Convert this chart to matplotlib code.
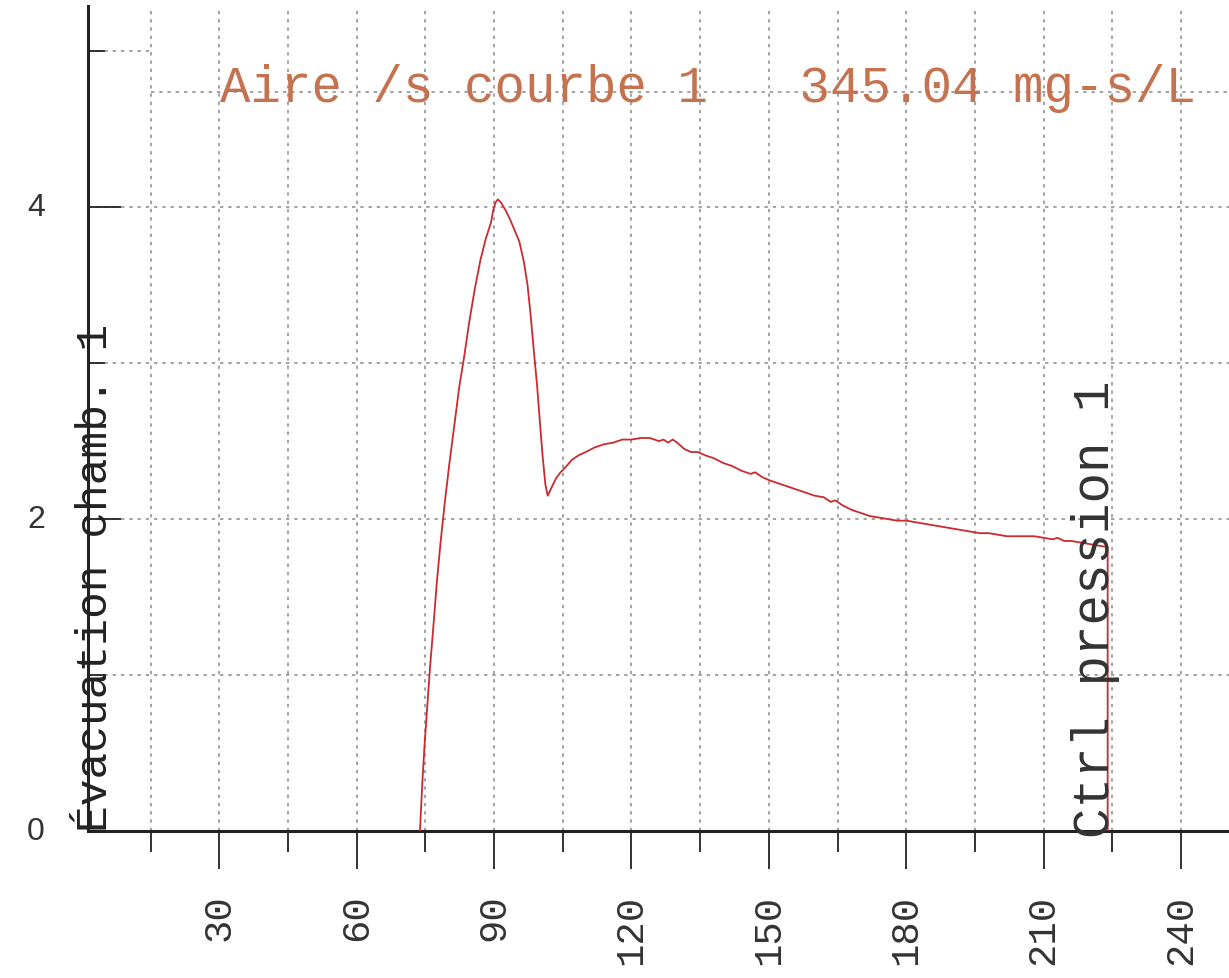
import matplotlib
matplotlib.use("Agg")
import matplotlib.pyplot as plt
from matplotlib.ticker import FixedLocator

# ---- data ----
time_s = [73.8, 74.3, 74.8, 75.4, 76.0, 76.7, 77.5, 78.3, 79.2, 80.2, 81.3, 82.4,
          83.5, 84.6, 85.8, 87.0, 88.2, 89.3, 89.8, 90.3, 90.8, 91.5, 92.5, 93.5,
          94.5, 95.5, 96.5, 97.3, 98.0, 98.7, 99.4, 100.0, 100.6, 101.2, 101.7,
          102.5, 103.5, 104.5, 105.5, 107.0, 108.5, 110.0, 112.0, 114.0, 116.0,
          118.0, 120.0, 122.0, 124.0, 126.0, 127.0, 128.0, 129.0, 130.0, 131.5,
          133.0, 134.5, 136.0, 138.0, 140.0, 142.0, 144.0, 146.0, 147.0, 148.5,
          150.0, 152.0, 154.0, 156.0, 158.0, 160.0, 162.0, 163.5, 164.5, 166.0,
          168.0, 170.0, 172.0, 174.0, 176.0, 178.0, 180.0, 182.0, 184.0, 186.0,
          188.0, 190.0, 192.0, 194.0, 196.0, 198.0, 200.0, 202.0, 204.0, 206.0,
          208.0, 210.0, 212.0, 213.0, 214.5, 216.0, 218.0, 220.0, 222.0, 224.0,
          224.0]
conc = [0.0, 0.3, 0.55, 0.8, 1.05, 1.3, 1.6, 1.85, 2.1, 2.35, 2.6, 2.85,
        3.05, 3.27, 3.48, 3.66, 3.80, 3.90, 3.98, 4.03, 4.05, 4.03, 3.98, 3.92,
        3.85, 3.78, 3.65, 3.50, 3.30, 3.07, 2.85, 2.62, 2.40, 2.22, 2.15,
        2.20, 2.26, 2.30, 2.33, 2.38, 2.41, 2.43, 2.46, 2.48, 2.49,
        2.51, 2.51, 2.52, 2.52, 2.50, 2.51, 2.49, 2.51, 2.49, 2.45,
        2.43, 2.43, 2.41, 2.39, 2.36, 2.34, 2.31, 2.29, 2.30, 2.27,
        2.25, 2.23, 2.21, 2.19, 2.17, 2.15, 2.14, 2.11, 2.12, 2.09,
        2.06, 2.04, 2.02, 2.01, 2.00, 1.99, 1.99, 1.98, 1.97, 1.96,
        1.95, 1.94, 1.93, 1.92, 1.91, 1.91, 1.90, 1.89, 1.89, 1.89,
        1.89, 1.88, 1.87, 1.88, 1.86, 1.86, 1.85, 1.84, 1.83, 1.82,
        0.0]

x_major = [30, 60, 90, 120, 150, 180, 210, 240]
x_minor = [15, 45, 75, 105, 135, 165, 195, 225]
x_labels = ["30", "60", "90", "120", "150", "180", "210", "240"]
y_major = [0, 2, 4]
y_minor = [1, 3, 5]
y_labels = ["0", "2", "4"]
x_grid = [15, 30, 45, 60, 75, 90, 105, 120, 135, 150, 165, 180, 195, 210, 225, 240]
y_grid = [1, 2, 3, 4]

title_text = "Aire /s courbe 1   345.04 mg-s/L"
event_left = "Évacuation chamb. 1"
event_right = "Ctrl pression 1"

# ---- figure ----
W, H = 1229, 979
fig = plt.figure(figsize=(W / 100, H / 100), dpi=100)
ax = fig.add_axes([88 / W, 147 / H, 1 - 88 / W, (832 - 7) / H])
xmin, xmax = 1.3, 250.5
ax.set_xlim(xmin, xmax)
ax.set_ylim(0, 5.29)

grid_kw = dict(color="#8a8a8a", lw=1.1, dashes=(2.2, 3.2), zorder=1)
for gx in x_grid:
    ax.axvline(gx, **grid_kw)
for gy in y_grid:
    ax.axhline(gy, **grid_kw)
frac15 = (15 - xmin) / (xmax - xmin)
ax.axhline(5, xmax=frac15, **grid_kw)
ax.axhline(4.74, xmin=frac15, **grid_kw)

ax.plot(time_s, conc, color="#cc2a2e", lw=1.3, zorder=3)

for side in ("top", "right"):
    ax.spines[side].set_visible(False)
for side in ("left", "bottom"):
    ax.spines[side].set_linewidth(2.2)
    ax.spines[side].set_color("#222222")

ax.xaxis.set_major_locator(FixedLocator(x_major))
ax.xaxis.set_minor_locator(FixedLocator(x_minor))
ax.set_xticklabels(x_labels, rotation=90, family="Liberation Mono",
                   fontsize=28, color="#333333")
ax.yaxis.set_major_locator(FixedLocator(y_major))
ax.yaxis.set_minor_locator(FixedLocator(y_minor))
ax.set_yticklabels(y_labels, family="Liberation Sans", fontsize=23,
                   color="#333333")
for lab in ax.get_yticklabels():
    lab.set_verticalalignment("center")

ax.tick_params(axis="x", which="major", direction="out", length=27, width=1.3,
               pad=18, color="#222222")
ax.tick_params(axis="x", which="minor", direction="out", length=15, width=1.3,
               color="#222222")
ax.tick_params(axis="y", which="major", direction="in", length=24, width=1.3,
               pad=31, color="#222222")
ax.tick_params(axis="y", which="minor", direction="in", length=12, width=1.3,
               color="#222222")

ax.text(30.1, 4.68, title_text, family="Liberation Mono", fontsize=36.5,
        color="#c4724f", ha="left", va="baseline", zorder=4)
ax.text(7.4, 0.0, event_left, family="Liberation Mono", fontsize=32,
        color="#222222", rotation=90, ha="right", va="bottom", zorder=4)
ax.text(226.6, -0.04, event_right, family="Liberation Mono", fontsize=36.5,
        color="#333333", rotation=90, ha="right", va="bottom", zorder=4)

fig.savefig("out.png", dpi=100)
